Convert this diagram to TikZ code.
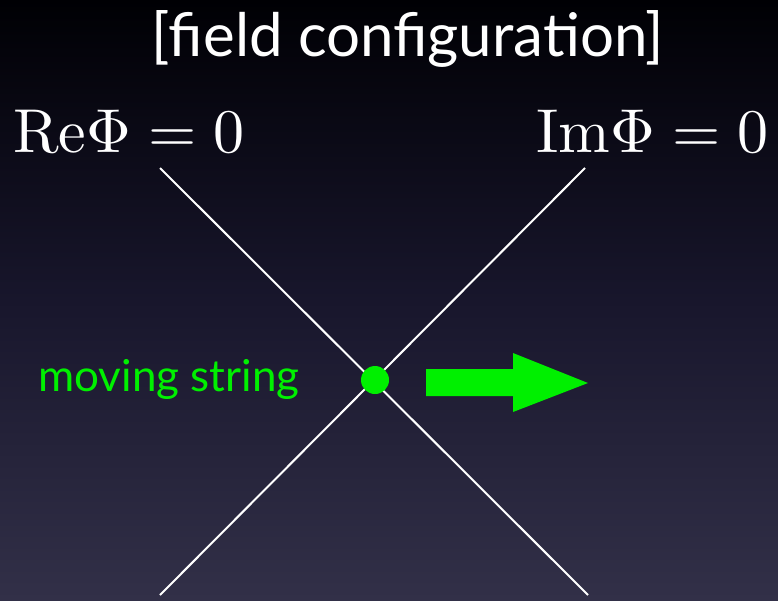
\documentclass[tikz,border=0pt]{standalone}
\usepackage[no-math]{fontspec}
\newfontfamily\titlefont{Lato}
\definecolor{stringgreen}{RGB}{0,240,0}
\definecolor{bgtop}{RGB}{0,0,4}
\definecolor{bgmid}{RGB}{24,22,44}
\definecolor{bgbottom}{RGB}{50,48,72}
\begin{document}
\begin{tikzpicture}[x=1pt,y=-1pt]
  \tikzset{zeroline/.style={white, line width=2pt},
    label/.style={white, inner sep=0pt}}
  \useasboundingbox (0,0) rectangle (778,600);
  \shade[top color=bgtop, bottom color=bgbottom, middle color=bgmid] (0,0) rectangle (778,600);
  \coordinate (R1) at (160,168);
  \coordinate (R2) at (588,595);
  \coordinate (I1) at (585,168);
  \coordinate (I2) at (160,595);
  \draw[zeroline] (R1) -- (R2);
  \draw[zeroline] (I1) -- (I2);
  \node[label, anchor=base] (title) at (408,56) {\titlefont\fontsize{60}{62}\selectfont [field configuration]};
  \node[label, anchor=base west, scale=6.2] (re) at (12,152) {$\mathrm{Re}\Phi = 0$};
  \node[label, anchor=base east, scale=6.2] (im) at (770,152) {$\mathrm{Im}\Phi = 0$};
  \node[circle, fill=stringgreen, minimum size=28pt, inner sep=0pt] (S) at (375,380) {};
  \node[label, text=stringgreen, anchor=base west] (mov) at (38,391) {\titlefont\fontsize{44}{46}\selectfont moving string};
  % thick arrow
  \fill[stringgreen] (426,369) -- (513,369) -- (513,353) -- (588,383) -- (513,412) -- (513,396) -- (426,396) -- cycle;
\end{tikzpicture}
\end{document}
